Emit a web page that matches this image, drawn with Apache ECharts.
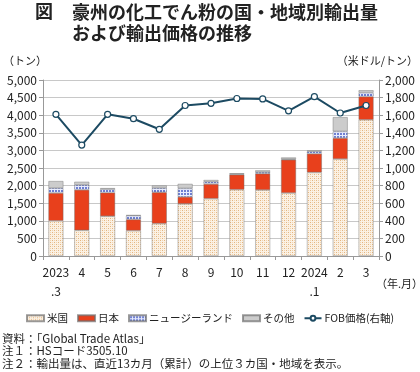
<!DOCTYPE html>
<html><head><meta charset="utf-8">
<script src="https://cdn.jsdelivr.net/npm/echarts@6/dist/echarts.min.js"></script>
<style>html,body{margin:0;padding:0;background:#fff}#c{width:420px;height:372px}</style>
</head><body><div id="c"></div>
<script>
const categories = ['2023\n.3','4','5','6','7','8','9','10','11','12','2024\n.1','2','3'];
const usa   = [1000, 730,1130, 720, 920,1480,1630,1885,1875,1790,2375,2755,3870];
const japan = [ 790,1150, 670, 320, 890, 200, 415, 425, 465, 945, 530, 595, 660];
const nz    = [ 140, 140, 100, 110, 120, 240,  65,  25,  45,  20,  65, 190, 110];
const other = [ 200,  90,  30,  10,  75, 130,  50,  10,  50,  45,  30, 405,  70];
const fob   = [1610,1260,1610,1560,1440,1710,1735,1790,1785,1650,1810,1625,1710];
const leftTicks = {min:0, max:5000, interval:500};
const rightTicks = {min:0, max:2000, interval:200};

function pat(w,h,draw){const c=document.createElement('canvas');c.width=w;c.height=h;const g=c.getContext('2d');draw(g);return c;}
const usPat = pat(4,4,g=>{g.fillStyle='#fbf1e4';g.fillRect(0,0,4,4);g.fillStyle='#e4b57f';g.fillRect(0,0,1,1);g.fillRect(2,2,1,1);g.fillStyle='#f1d4b0';g.fillRect(2,0,1,1);g.fillRect(0,2,1,1);});
const nzPat = pat(3,3,g=>{g.fillStyle='#6f80d2';g.fillRect(0,0,3,3);g.fillStyle='#e8ecff';g.fillRect(0,0,3,1);g.fillRect(0,0,1,3);});

const font = '"Noto Sans CJK JP", "Noto Sans", sans-serif';
const chart = echarts.init(document.getElementById('c'));
const bstyle = (color)=>({color:color, borderColor:'rgba(110,110,110,0.7)', borderWidth:0.6});
chart.setOption({
  animation:false,
  textStyle:{fontFamily:font},
  title:[
    {text:'図', left:30, top:-3, textStyle:{fontSize:18, fontWeight:'bold', color:'#222', fontFamily:font}},
    {text:'豪州の化工でん粉の国・地域別輸出量\nおよび輸出価格の推移', left:67, top:-3, textStyle:{fontSize:18, fontWeight:'bold', color:'#222', lineHeight:21, fontFamily:font}}
  ],
  graphic:[
    {type:'text', left:3, top:55, style:{text:'（トン）', font:'11px '+font, fill:'#222'}},
    {type:'text', right:2, top:55, style:{text:'（米ドル/トン）', font:'11px '+font, fill:'#222'}},
    {type:'text', left:376, top:278, style:{text:'（年.月）', font:'11px '+font, fill:'#222'}},
    {type:'text', left:2, top:332, style:{text:'資料：「Global Trade Atlas」\n注１：HSコード3505.10\n注２：輸出量は、直近13カ月（累計）の上位３カ国・地域を表示。', font:'11.5px '+font, fill:'#222', lineHeight:12.5}}
  ],
  legend:{
    top:308, left:'center', itemGap:9, itemWidth:17, itemHeight:6,
    textStyle:{fontSize:10.5, color:'#222', fontFamily:font, padding:[0,0,0,-2]},
    data:[{name:'米国',icon:'rect'},{name:'日本',icon:'rect'},{name:'ニュージーランド',icon:'rect'},{name:'その他',icon:'rect'},'FOB価格(右軸)']
  },
  grid:{left:43, right:41, top:80, bottom:116},
  xAxis:{
    type:'category', data:categories,
    axisLine:{lineStyle:{color:'#999'}},
    axisTick:{show:true, length:4, lineStyle:{color:'#999'}},
    axisLabel:{fontSize:12, color:'#222', lineHeight:19, margin:7, interval:0, fontFamily:font}
  },
  yAxis:[
    {type:'value', min:leftTicks.min, max:leftTicks.max, interval:leftTicks.interval,
     axisLine:{show:true, lineStyle:{color:'#999'}}, axisTick:{show:true, length:4, lineStyle:{color:'#999'}},
     splitLine:{lineStyle:{color:'#c8c8c8'}},
     axisLabel:{fontSize:12, color:'#222', margin:6, fontFamily:font, formatter:v=>v.toLocaleString('en-US')}},
    {type:'value', min:rightTicks.min, max:rightTicks.max, interval:rightTicks.interval,
     axisLine:{show:true, lineStyle:{color:'#999'}}, axisTick:{show:true, length:4, lineStyle:{color:'#999'}},
     splitLine:{show:false},
     axisLabel:{fontSize:12, color:'#222', margin:6, fontFamily:font, formatter:v=>v.toLocaleString('en-US')}}
  ],
  series:[
    {name:'米国', type:'bar', stack:'a', data:usa, barWidth:15, itemStyle:bstyle({image:usPat, repeat:'repeat'})},
    {name:'日本', type:'bar', stack:'a', data:japan, barWidth:15, itemStyle:bstyle('#e8401c')},
    {name:'ニュージーランド', type:'bar', stack:'a', data:nz, barWidth:15, itemStyle:bstyle({image:nzPat, repeat:'repeat'})},
    {name:'その他', type:'bar', stack:'a', data:other, barWidth:15, itemStyle:bstyle('#cccccc')},
    {name:'FOB価格(右軸)', type:'line', yAxisIndex:1, data:fob, symbol:'circle', symbolSize:6,
     lineStyle:{color:'#1c4a62', width:2}, itemStyle:{color:'#fff', borderColor:'#1c4a62', borderWidth:1.2}, z:5}
  ]
});
</script></body></html>
